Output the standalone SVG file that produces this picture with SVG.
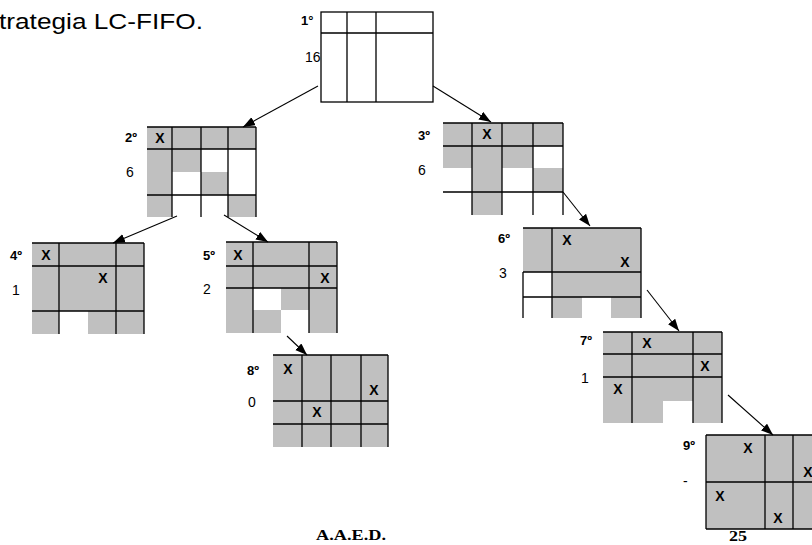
<svg xmlns="http://www.w3.org/2000/svg" width="812" height="545" viewBox="0 0 812 545">
  <defs>
    <marker id="head" markerUnits="userSpaceOnUse" markerWidth="13" markerHeight="10" refX="12" refY="4.5" orient="auto">
      <path d="M0,0 L12,4.5 L0,9 Z" fill="#000"/>
    </marker>
  </defs>
  <style>
    .sh { fill: #c0c0c0; stroke: none; }
    .ln { fill: none; stroke: #000; stroke-width: 1.3; }
    .x { font-family: "Liberation Sans", Arial, sans-serif; font-size: 14px; font-weight: bold; text-anchor: middle; fill: #000; }
    .lbl { font-family: "Liberation Sans", Arial, sans-serif; font-size: 13px; font-weight: bold; fill: #000; }
    .val { font-family: "Liberation Sans", Arial, sans-serif; font-size: 14px; fill: #000; }
    .foot { font-family: "Liberation Serif", "Times New Roman", serif; font-size: 15px; font-weight: bold; fill: #000; }
    .edge { stroke: #000; stroke-width: 1.1; fill: none; marker-end: url(#head); }
  </style>

  <rect width="812" height="545" fill="#fff"/>

  <text x="-1" y="29" font-family="'Liberation Sans', Arial, sans-serif" font-size="22" textLength="204" lengthAdjust="spacingAndGlyphs">trategia LC-FIFO.</text>

  <!-- root -->
  <g id="node1">
    <rect x="321" y="12" width="112" height="90" class="ln"/>
    <path class="ln" d="M321 33H433M347 12V102M376 12V102"/>
    <text class="lbl" x="301" y="25">1°</text>
    <text class="val" x="305" y="62">16</text>
  </g>

  <g id="node2">
    <rect class="sh" x="147" y="127" width="109" height="22"/>
    <rect class="sh" x="147" y="149" width="25" height="68"/>
    <rect class="sh" x="172" y="149" width="29" height="23"/>
    <rect class="sh" x="201" y="172" width="27" height="23"/>
    <rect class="sh" x="228" y="195" width="28" height="22"/>
    <path class="ln" d="M147 127H256M147 149H256M147 195H256M172 127V217M201 127V217M228 127V217M256 127V217"/>
    <text class="x" x="160" y="143">X</text>
    <text class="lbl" x="125" y="142">2º</text>
    <text class="val" x="126" y="177">6</text>
  </g>

  <g id="node3">
    <rect class="sh" x="443" y="123" width="120" height="23"/>
    <rect class="sh" x="443" y="146" width="29" height="22"/>
    <rect class="sh" x="472" y="146" width="30" height="69"/>
    <rect class="sh" x="502" y="146" width="31" height="22"/>
    <rect class="sh" x="533" y="168" width="30" height="24"/>
    <path class="ln" d="M443 123H563M443 146H563M443 192H563M472 123V215M502 123V215M533 123V215M563 123V215"/>
    <text class="x" x="487" y="139">X</text>
    <text class="lbl" x="418" y="140">3º</text>
    <text class="val" x="418" y="175">6</text>
  </g>

  <g id="node4">
    <rect class="sh" x="32" y="243" width="112" height="68"/>
    <rect class="sh" x="32" y="311" width="27" height="23"/>
    <rect class="sh" x="88" y="311" width="56" height="23"/>
    <path class="ln" d="M32 243H144M32 266H144M32 311H144M59 243V334M116 243V334M144 243V334"/>
    <text class="x" x="46" y="260">X</text>
    <text class="x" x="103" y="283">X</text>
    <text class="lbl" x="10" y="260">4º</text>
    <text class="val" x="12" y="295">1</text>
  </g>

  <g id="node5">
    <rect class="sh" x="226" y="242" width="111" height="46"/>
    <rect class="sh" x="226" y="288" width="27" height="22"/>
    <rect class="sh" x="281" y="288" width="56" height="22"/>
    <rect class="sh" x="226" y="310" width="55" height="23"/>
    <rect class="sh" x="309" y="310" width="28" height="23"/>
    <path class="ln" d="M226 242H337M226 266H337M226 288H337M253 242V333M309 242V333M337 242V333"/>
    <text class="x" x="238" y="260">X</text>
    <text class="x" x="325" y="283">X</text>
    <text class="lbl" x="203" y="260">5º</text>
    <text class="val" x="203" y="294">2</text>
  </g>

  <g id="node6">
    <rect class="sh" x="523" y="228" width="118" height="44"/>
    <rect class="sh" x="552" y="272" width="89" height="25"/>
    <rect class="sh" x="552" y="297" width="30" height="21"/>
    <rect class="sh" x="611" y="297" width="30" height="21"/>
    <path class="ln" d="M523 228H641M523 272H641M523 297H641M552 228V318M641 228V318M523 272V318"/>
    <text class="x" x="567" y="245">X</text>
    <text class="x" x="625" y="267">X</text>
    <text class="lbl" x="498" y="243">6º</text>
    <text class="val" x="499" y="278">3</text>
  </g>

  <g id="node7">
    <path class="sh" d="M603 332H722V423H693V401H663V423H603Z"/>
    <path class="ln" d="M603 332H722M603 354H722M603 377H722M632 332V423M693 332V423M722 332V423"/>
    <text class="x" x="647" y="348">X</text>
    <text class="x" x="705" y="371">X</text>
    <text class="x" x="618" y="394">X</text>
    <text class="lbl" x="580" y="345">7º</text>
    <text class="val" x="581" y="383">1</text>
  </g>

  <g id="node8">
    <rect class="sh" x="273" y="355" width="115" height="92"/>
    <path class="ln" d="M273 355H388M273 401H388M273 424H388M302 355V447M331 355V447M361 355V447M388 355V447"/>
    <text class="x" x="288" y="374">X</text>
    <text class="x" x="374" y="395">X</text>
    <text class="x" x="317" y="417">X</text>
    <text class="lbl" x="247" y="375">8º</text>
    <text class="val" x="248" y="407">0</text>
  </g>

  <g id="node9">
    <rect class="sh" x="706" y="435" width="116" height="94"/>
    <path class="ln" d="M706 435H822M706 482H822M706 529H822M706 435V529M765 435V529M793 435V529"/>
    <text class="x" x="748" y="453">X</text>
    <text class="x" x="808" y="477">X</text>
    <text class="x" x="720" y="501">X</text>
    <text class="x" x="778" y="523">X</text>
    <text class="lbl" x="683" y="450">9º</text>
    <text class="val" x="683" y="486">-</text>
  </g>

  <!-- tree edges -->
  <g id="edges">
    <line class="edge" x1="318" y1="86" x2="243" y2="127"/>
    <line class="edge" x1="433" y1="86" x2="491" y2="122"/>
    <line class="edge" x1="177" y1="216" x2="113" y2="243"/>
    <line class="edge" x1="224" y1="215" x2="268" y2="242"/>
    <line class="edge" x1="563" y1="192" x2="590" y2="226"/>
    <line class="edge" x1="287" y1="336" x2="307" y2="355"/>
    <line class="edge" x1="647" y1="290" x2="679" y2="331"/>
    <line class="edge" x1="728" y1="395" x2="773" y2="435"/>
  </g>

  <text class="foot" x="316" y="540" textLength="70" lengthAdjust="spacingAndGlyphs">A.A.E.D.</text>
  <text class="foot" x="729" y="541" textLength="18" lengthAdjust="spacingAndGlyphs">25</text>
</svg>
